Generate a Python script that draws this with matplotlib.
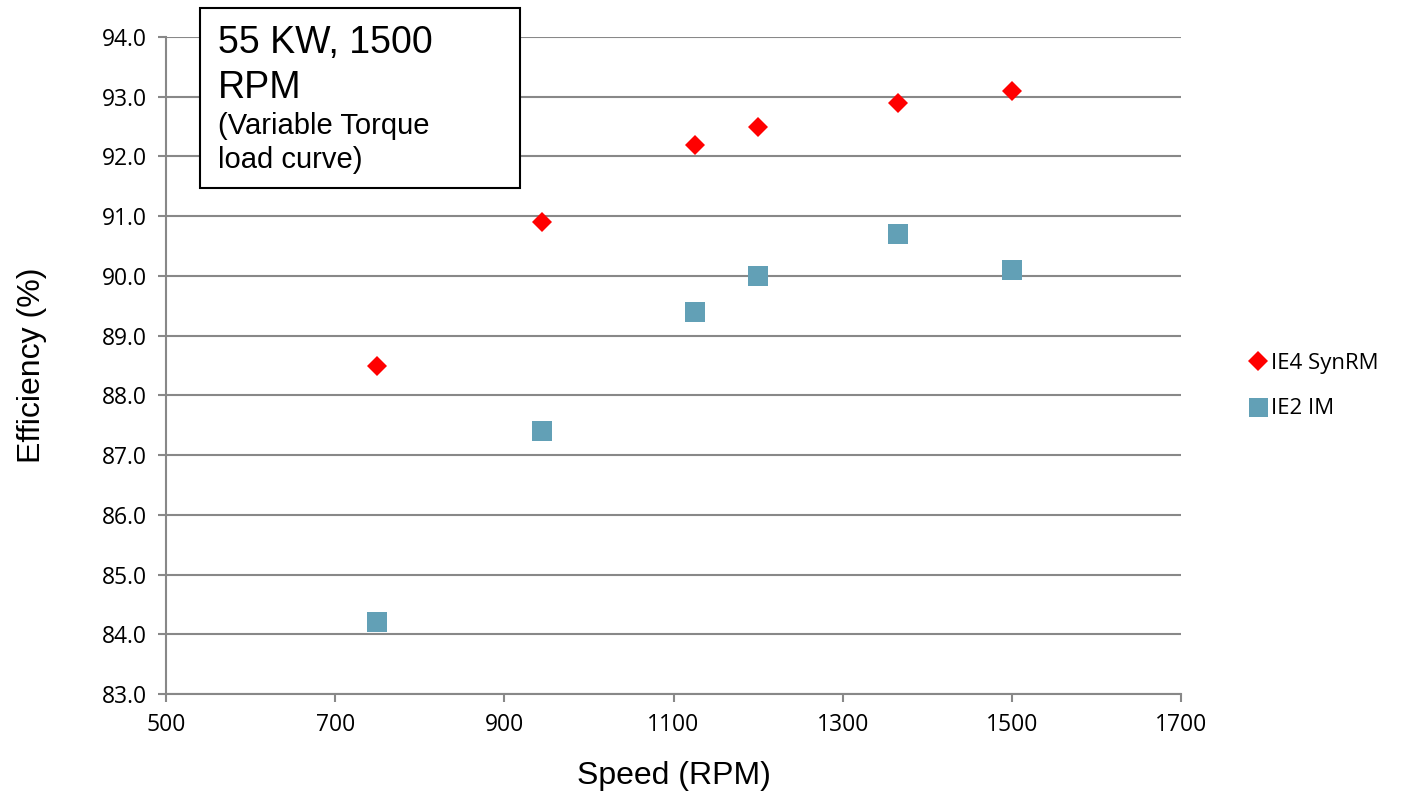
import matplotlib.pyplot as plt
from matplotlib.patches import Rectangle

# values
speed = [750, 945, 1125, 1200, 1365, 1500]
eff_synrm = [88.5, 90.9, 92.2, 92.5, 92.9, 93.1]
eff_im = [84.2, 87.4, 89.4, 90.0, 90.7, 90.1]
x_ticks = [500, 700, 900, 1100, 1300, 1500, 1700]
y_ticks = [83, 84, 85, 86, 87, 88, 89, 90, 91, 92, 93, 94]

grid_col = '#888888'

fig = plt.figure(figsize=(14.01, 7.96), dpi=100)
ax = fig.add_axes([0.1185, 0.1281, 0.7245, 0.8254])

ax.plot(speed, eff_synrm, linestyle='none', marker='D', markersize=10.2,
        color='#ff0000', markeredgewidth=0, label='IE4 SynRM', zorder=3)
ax.plot(speed, eff_im, linestyle='none', marker='s', markersize=14.4,
        color='#62a0b6', markeredgewidth=0, label='IE2 IM', zorder=3)

ax.set_xlim(500, 1700)
ax.set_ylim(83, 94)
ax.set_xticks(x_ticks)
ax.set_yticks(y_ticks)
ax.set_yticklabels(['%.1f' % v for v in y_ticks])

ax.grid(axis='y', color=grid_col, linewidth=1.5)
ax.set_axisbelow(True)
for s in ['top', 'right']:
    ax.spines[s].set_visible(False)
for s in ['left', 'bottom']:
    ax.spines[s].set_color(grid_col)
    ax.spines[s].set_linewidth(1.5)
ax.tick_params(length=6, width=1.5, color=grid_col, labelsize=16.5, pad=8)
for lab in ax.get_xticklabels() + ax.get_yticklabels():
    lab.set_fontfamily('Open Sans')

ax.set_xlabel('Speed (RPM)', fontsize=23, family='Liberation Sans', labelpad=17)
ax.set_ylabel('Efficiency (%)', fontsize=23, family='Liberation Sans', labelpad=39)

fig.legend(loc='center left', bbox_to_anchor=(0.8757, 0.515), frameon=False,
           prop={'family': 'Open Sans', 'size': 16}, handletextpad=0.1,
           labelspacing=1.1, handlelength=1.0, markerscale=0.95)

# annotation box
fig.patches.append(Rectangle((0.1428, 0.7638), 0.2284, 0.2261, transform=fig.transFigure,
                             facecolor='white', edgecolor='black', linewidth=1.5, zorder=5))
fig.text(0.1556, 0.969, '55 KW, 1500\nRPM', fontsize=27, family='Liberation Sans',
         va='top', ha='left', linespacing=1.35, zorder=6)
fig.text(0.1556, 0.859, '(Variable Torque\nload curve)', fontsize=21, family='Liberation Sans',
         va='top', ha='left', linespacing=1.25, zorder=6)

fig.savefig('out.png', dpi=100)
